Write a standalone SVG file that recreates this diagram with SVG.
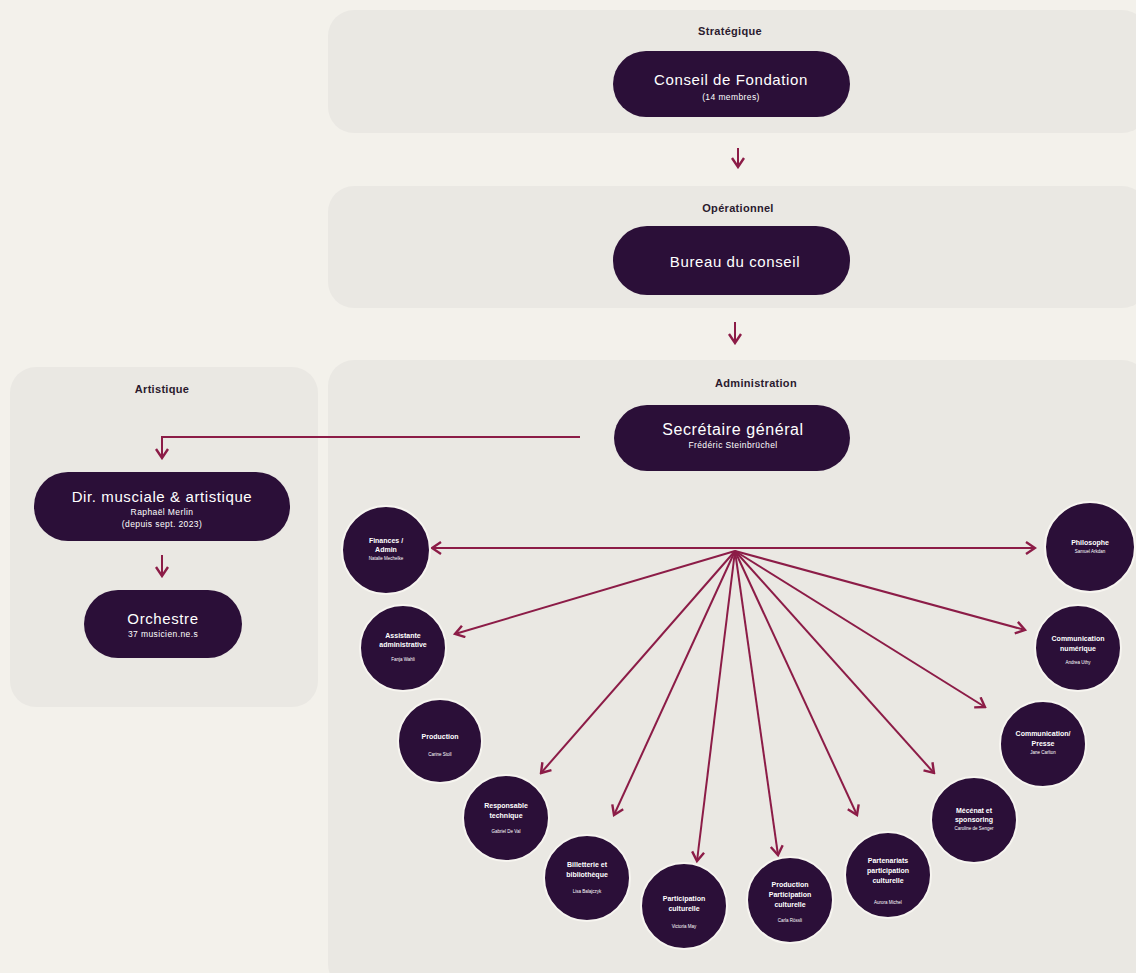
<svg xmlns="http://www.w3.org/2000/svg" width="1136" height="973" viewBox="0 0 1136 973">
<style>
.panel{fill:#eae8e3}
.lbl{font-family:"Liberation Sans",Arial,sans-serif;font-size:11px;font-weight:bold;fill:#2a1a2e;text-anchor:middle;letter-spacing:0.3px}
.pill{fill:#2b0f38}
.pt{font-family:"Liberation Sans",Arial,sans-serif;font-size:15px;fill:#fff;text-anchor:middle;letter-spacing:0.6px}
.ps{font-family:"Liberation Sans",Arial,sans-serif;font-size:8.5px;fill:#fff;text-anchor:middle;letter-spacing:0.4px}
.circ{fill:#2b0f38;stroke:#f7f5f0;stroke-width:2}
.ct{font-family:"Liberation Sans",Arial,sans-serif;font-size:7px;font-weight:bold;fill:#fff;text-anchor:middle}
.cs{font-family:"Liberation Sans",Arial,sans-serif;font-size:4.5px;fill:#fff;text-anchor:middle}
.con{stroke:#8c1c47;stroke-width:2;fill:none}
</style>
<defs>
<marker id="ah" markerUnits="userSpaceOnUse" viewBox="0 0 14 14" refX="12" refY="7" markerWidth="14" markerHeight="14" orient="auto-start-reverse">
<path d="M3,1 L12,7 L3,13" fill="none" stroke="#8c1c47" stroke-width="2.4"/>
</marker>
</defs>
<rect width="1136" height="973" fill="#f3f1eb"/>
<g id="panels">
<rect class="panel" x="328" y="10" width="820" height="123" rx="26"/>
<rect class="panel" x="328" y="186" width="820" height="122" rx="26"/>
<rect class="panel" x="328" y="360" width="820" height="630" rx="26"/>
<rect class="panel" x="10" y="367" width="308" height="340" rx="26"/>
<text class="lbl" x="730" y="35">Stratégique</text>
<text class="lbl" x="738" y="212">Opérationnel</text>
<text class="lbl" x="756" y="387">Administration</text>
<text class="lbl" x="162" y="393">Artistique</text>
</g>
<g id="connectors">
<line class="con" x1="738" y1="148" x2="738" y2="167" marker-end="url(#ah)"/>
<line class="con" x1="735" y1="322" x2="735" y2="343" marker-end="url(#ah)"/>
<polyline class="con" points="580,437 162,437 162,458" marker-end="url(#ah)"/>
<line class="con" x1="162" y1="555" x2="162" y2="576" marker-end="url(#ah)"/>
<line class="con" x1="432" y1="548" x2="1035" y2="548" marker-start="url(#ah)" marker-end="url(#ah)"/>
<line class="con" x1="735" y1="551" x2="455" y2="634" marker-end="url(#ah)"/>
<line class="con" x1="735" y1="551" x2="541" y2="773" marker-end="url(#ah)"/>
<line class="con" x1="735" y1="551" x2="614" y2="815" marker-end="url(#ah)"/>
<line class="con" x1="735" y1="551" x2="697" y2="861" marker-end="url(#ah)"/>
<line class="con" x1="735" y1="551" x2="778" y2="855" marker-end="url(#ah)"/>
<line class="con" x1="735" y1="551" x2="857" y2="815" marker-end="url(#ah)"/>
<line class="con" x1="735" y1="551" x2="934" y2="773" marker-end="url(#ah)"/>
<line class="con" x1="735" y1="551" x2="985" y2="707" marker-end="url(#ah)"/>
<line class="con" x1="735" y1="551" x2="1025" y2="630" marker-end="url(#ah)"/>
</g>
<g id="conseil">
<rect class="pill" x="613" y="51" width="237" height="66" rx="33"/>
<text class="pt" x="731" y="85">Conseil de Fondation</text>
<text class="ps" x="731" y="100">(14 membres)</text>
</g>
<g id="bureau">
<rect class="pill" x="613" y="226" width="237" height="69" rx="34"/>
<text class="pt" x="735" y="267">Bureau du conseil</text>
</g>
<g id="secretaire">
<rect class="pill" x="614" y="405" width="236" height="66" rx="33"/>
<text class="pt" x="733" y="435" style="font-size:16px">Secrétaire général</text>
<text class="ps" x="733" y="448">Frédéric Steinbrüchel</text>
</g>
<g id="direction">
<rect class="pill" x="34" y="472" width="256" height="69" rx="34"/>
<text class="pt" x="162" y="502">Dir. musciale &amp; artistique</text>
<text class="ps" x="162" y="515">Raphaël Merlin</text>
<text class="ps" x="162" y="527">(depuis sept. 2023)</text>
</g>
<g id="orchestre">
<rect class="pill" x="84" y="590" width="158" height="68" rx="34"/>
<text class="pt" x="163" y="624">Orchestre</text>
<text class="ps" x="163" y="637">37 musicien.ne.s</text>
</g>
<g id="finances">
<circle class="circ" cx="386" cy="550" r="44"/>
<text class="ct" x="386" y="543">Finances /</text>
<text class="ct" x="386" y="552">Admin</text>
<text class="cs" x="386" y="560">Natalie Mechelke</text>
</g>
<g id="assistante">
<circle class="circ" cx="403" cy="648" r="43"/>
<text class="ct" x="403" y="638">Assistante</text>
<text class="ct" x="403" y="647">administrative</text>
<text class="cs" x="403" y="661">Fanja Wahli</text>
</g>
<g id="production">
<circle class="circ" cx="440" cy="741" r="42"/>
<text class="ct" x="440" y="739">Production</text>
<text class="cs" x="440" y="756">Carine Stoll</text>
</g>
<g id="technique">
<circle class="circ" cx="506" cy="818" r="43"/>
<text class="ct" x="506" y="808">Responsable</text>
<text class="ct" x="506" y="818">technique</text>
<text class="cs" x="506" y="833">Gabriel De Val</text>
</g>
<g id="billetterie">
<circle class="circ" cx="587" cy="878" r="43"/>
<text class="ct" x="587" y="867">Billetterie et</text>
<text class="ct" x="587" y="877">bibliothèque</text>
<text class="cs" x="587" y="893">Lisa Balajczyk</text>
</g>
<g id="participation">
<circle class="circ" cx="684" cy="906" r="43"/>
<text class="ct" x="684" y="901">Participation</text>
<text class="ct" x="684" y="911">culturelle</text>
<text class="cs" x="684" y="928">Victoria May</text>
</g>
<g id="prodparticipation">
<circle class="circ" cx="790" cy="900" r="43"/>
<text class="ct" x="790" y="887">Production</text>
<text class="ct" x="790" y="897">Participation</text>
<text class="ct" x="790" y="907">culturelle</text>
<text class="cs" x="790" y="922">Carla Rössli</text>
</g>
<g id="partenariats">
<circle class="circ" cx="888" cy="875" r="43"/>
<text class="ct" x="888" y="863">Partenariats</text>
<text class="ct" x="888" y="873">participation</text>
<text class="ct" x="888" y="883">culturelle</text>
<text class="cs" x="888" y="904">Aurora Michel</text>
</g>
<g id="mecenat">
<circle class="circ" cx="974" cy="820" r="43"/>
<text class="ct" x="974" y="813">Mécénat et</text>
<text class="ct" x="974" y="822">sponsoring</text>
<text class="cs" x="974" y="830">Caroline de Senger</text>
</g>
<g id="commpresse">
<circle class="circ" cx="1043" cy="744" r="43"/>
<text class="ct" x="1043" y="736">Communication/</text>
<text class="ct" x="1043" y="746">Presse</text>
<text class="cs" x="1043" y="754">Jane Carlton</text>
</g>
<g id="commnum">
<circle class="circ" cx="1078" cy="648" r="43"/>
<text class="ct" x="1078" y="641">Communication</text>
<text class="ct" x="1078" y="651">numérique</text>
<text class="cs" x="1078" y="664">Andrea Uthy</text>
</g>
<g id="philosophe">
<circle class="circ" cx="1090" cy="547" r="45"/>
<text class="ct" x="1090" y="545">Philosophe</text>
<text class="cs" x="1090" y="553">Samuel Arkdan</text>
</g>
</svg>
